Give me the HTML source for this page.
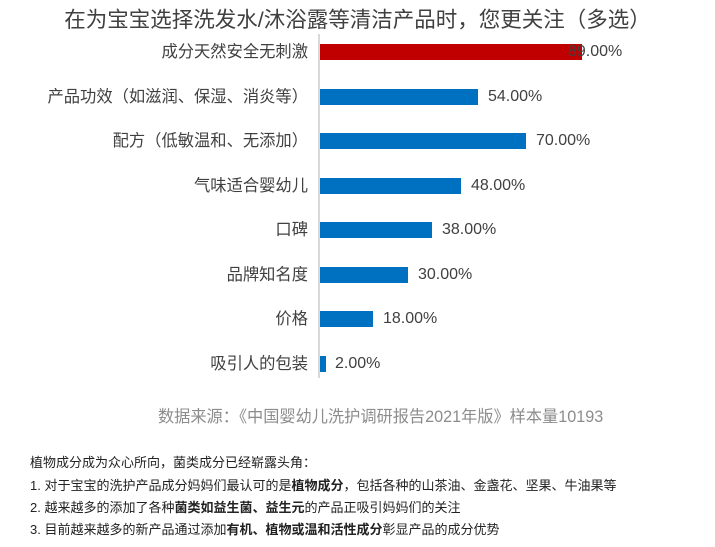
<!DOCTYPE html>
<html><head><meta charset="utf-8"><style>
body{margin:0;width:715px;height:547px;background:#fff;position:relative;overflow:hidden;font-family:"Liberation Sans","Noto Sans CJK SC",sans-serif;color:#404040}
.a{position:absolute;white-space:nowrap}
.lab{position:absolute;right:407px;font-size:16.3px;line-height:16px;white-space:nowrap}
.bar{position:absolute;left:320px;height:16px;background:#0070c0}
.val{position:absolute;font-size:16px;line-height:16px}
.n{position:absolute;left:30px;font-size:13px;color:#222;white-space:nowrap}
</style></head><body>
<div class="a" style="left:0;width:715px;text-align:center;top:3px;font-size:21.5px">在为宝宝选择洗发水/沐浴露等清洁产品时，您更关注（多选）</div>
<div class="a" style="left:318px;top:34px;width:2px;height:344px;background:#d9d9d9"></div>

<div class="lab" style="top:44px">成分天然安全无刺激</div>
<div class="bar" style="top:44px;width:262px;background:#c00000"></div>
<div class="val" style="top:44px;left:568px">89.00%</div>

<div class="lab" style="top:89px">产品功效（如滋润、保湿、消炎等）</div>
<div class="bar" style="top:89px;width:158px"></div>
<div class="val" style="top:89px;left:488px">54.00%</div>

<div class="lab" style="top:133px">配方（低敏温和、无添加）</div>
<div class="bar" style="top:133px;width:206px"></div>
<div class="val" style="top:133px;left:536px">70.00%</div>

<div class="lab" style="top:178px">气味适合婴幼儿</div>
<div class="bar" style="top:178px;width:141px"></div>
<div class="val" style="top:178px;left:471px">48.00%</div>

<div class="lab" style="top:222px">口碑</div>
<div class="bar" style="top:222px;width:112px"></div>
<div class="val" style="top:222px;left:442px">38.00%</div>

<div class="lab" style="top:267px">品牌知名度</div>
<div class="bar" style="top:267px;width:88px"></div>
<div class="val" style="top:267px;left:418px">30.00%</div>

<div class="lab" style="top:311px">价格</div>
<div class="bar" style="top:311px;width:53px"></div>
<div class="val" style="top:311px;left:383px">18.00%</div>

<div class="lab" style="top:356px">吸引人的包装</div>
<div class="bar" style="top:356px;width:6px"></div>
<div class="val" style="top:356px;left:335px">2.00%</div>

<div class="a" style="left:158px;top:403px;font-size:16.2px;color:#8c8c8c">数据来源：《中国婴幼儿洗护调研报告2021年版》样本量10193</div>

<div class="n" style="top:452px">植物成分成为众心所向，菌类成分已经崭露头角：</div>
<div class="n" style="top:475px">1. 对于宝宝的洗护产品成分妈妈们最认可的是<b>植物成分</b>，包括各种的山茶油、金盏花、坚果、牛油果等</div>
<div class="n" style="top:497px">2. 越来越多的添加了各种<b>菌类如益生菌、益生元</b>的产品正吸引妈妈们的关注</div>
<div class="n" style="top:519px">3. 目前越来越多的新产品通过添加<b>有机、植物或温和活性成分</b>彰显产品的成分优势</div>
</body></html>
